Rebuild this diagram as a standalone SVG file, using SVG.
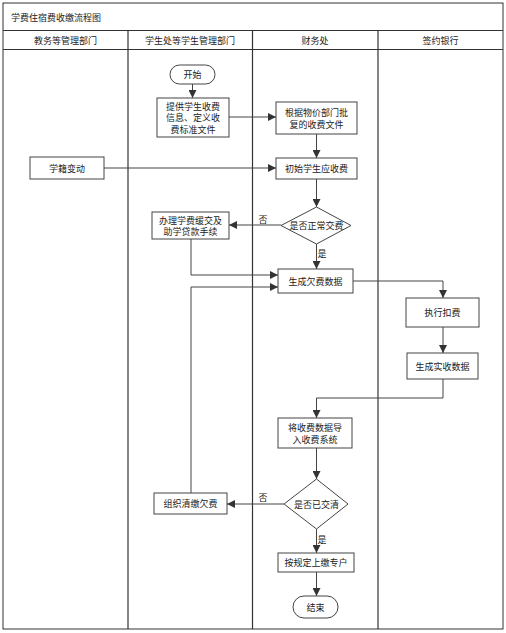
<svg xmlns="http://www.w3.org/2000/svg" width="506" height="633" viewBox="0 0 506 633">
<defs>
<marker id="arr" viewBox="0 0 10 10" refX="10" refY="5" markerWidth="8" markerHeight="8" markerUnits="userSpaceOnUse" orient="auto">
<path d="M0,0 L10,5 L0,10 z" fill="#333"/>
</marker>
<style>
.frame{fill:#fff;stroke:#333;stroke-width:1}
.lane{stroke:#333;stroke-width:1.2;fill:none}
.box{fill:#fff;stroke:#444;stroke-width:1}
.t{font-family:"Noto Sans CJK SC","Noto Sans",sans-serif;font-size:9px;fill:#222;text-anchor:middle;dominant-baseline:central}
.tl{font-family:"Noto Sans CJK SC","Noto Sans",sans-serif;font-size:9px;fill:#222;dominant-baseline:central}
.c{fill:none;stroke:#444;stroke-width:1;marker-end:url(#arr)}
.cn{fill:none;stroke:#444;stroke-width:1}
</style>
</defs>
<rect width="506" height="633" fill="#fff"/>
<g id="frame">
<rect class="frame" x="3" y="3" width="500" height="626"/>
<line class="lane" x1="3" y1="30.5" x2="503" y2="30.5"/>
<line class="lane" x1="3" y1="49.5" x2="503" y2="49.5"/>
<line class="lane" x1="128" y1="30.5" x2="128" y2="629"/>
<line class="lane" x1="252.5" y1="30.5" x2="252.5" y2="629"/>
<line class="lane" x1="378" y1="30.5" x2="378" y2="629"/>
<text class="tl" x="11" y="17">学费住宿费收缴流程图</text>
<text class="t" x="65.5" y="40">教务等管理部门</text>
<text class="t" x="190" y="40">学生处等学生管理部门</text>
<text class="t" x="315" y="40">财务处</text>
<text class="t" x="440.5" y="40">签约银行</text>
</g>
<g id="connectors">
<path class="c" d="M192.5,84 V98"/>
<path class="c" d="M229,117 H276"/>
<path class="c" d="M316.5,134 V158"/>
<path class="c" d="M104,168 H276"/>
<path class="c" d="M316.5,179 V207"/>
<path class="c" d="M281,225 H229"/>
<text class="t" x="263" y="219">否</text>
<path class="c" d="M316.5,244 V269"/>
<text class="t" x="322" y="253">是</text>
<path class="c" d="M191,239 V275 H278"/>
<path class="c" d="M191,493 V287 H278"/>
<path class="c" d="M353,281 H443 V298"/>
<path class="c" d="M443,327 V353"/>
<path class="c" d="M443,379 V398 H316.5 V418"/>
<path class="c" d="M316.5,448 V479"/>
<path class="c" d="M284,504 H227"/>
<text class="t" x="263" y="497">否</text>
<path class="c" d="M316.5,529 V553"/>
<text class="t" x="322" y="539">是</text>
<path class="c" d="M316.5,572 V596"/>
</g>
<g id="n-start">
<rect class="box" x="170" y="65" width="45" height="19" rx="9.5"/>
<text class="t" x="192.5" y="74.5">开始</text>
</g>
<g id="n-provide">
<rect class="box" x="157" y="98" width="72" height="39"/>
<text class="t" x="193" y="106">提供学生收费</text>
<text class="t" x="193" y="117.5">信息、定义收</text>
<text class="t" x="193" y="129">费标准文件</text>
</g>
<g id="n-approve">
<rect class="box" x="276" y="102" width="81" height="32"/>
<text class="t" x="316.5" y="112">根据物价部门批</text>
<text class="t" x="316.5" y="124">复的收费文件</text>
</g>
<g id="n-init">
<rect class="box" x="276" y="158" width="81" height="21"/>
<text class="t" x="316.5" y="168.5">初始学生应收费</text>
</g>
<g id="n-status">
<rect class="box" x="30" y="157" width="74" height="22"/>
<text class="t" x="67" y="168">学籍变动</text>
</g>
<g id="n-dec1">
<polygon class="box" points="316.5,207 351,225.5 316.5,244 281,225.5"/>
<text class="t" x="316.5" y="225.5">是否正常交费</text>
</g>
<g id="n-defer">
<rect class="box" x="152" y="212" width="77" height="27"/>
<text class="t" x="190.5" y="220">办理学费缓交及</text>
<text class="t" x="190.5" y="231.5">助学贷款手续</text>
</g>
<g id="n-arrears">
<rect class="box" x="278" y="269" width="75" height="24"/>
<text class="t" x="315.5" y="281">生成欠费数据</text>
</g>
<g id="n-deduct">
<rect class="box" x="406" y="298" width="73" height="29"/>
<text class="t" x="442.5" y="312.5">执行扣费</text>
</g>
<g id="n-actual">
<rect class="box" x="407" y="353" width="71" height="26"/>
<text class="t" x="442.5" y="366">生成实收数据</text>
</g>
<g id="n-import">
<rect class="box" x="278" y="418" width="74" height="30"/>
<text class="t" x="315" y="427.5">将收费数据导</text>
<text class="t" x="315" y="439">入收费系统</text>
</g>
<g id="n-dec2">
<polygon class="box" points="316.5,479 348,504 316.5,529 284,504"/>
<text class="t" x="316.5" y="504">是否已交清</text>
</g>
<g id="n-collect">
<rect class="box" x="154" y="493" width="73" height="21"/>
<text class="t" x="190.5" y="503.5">组织清缴欠费</text>
</g>
<g id="n-remit">
<rect class="box" x="278" y="553" width="76" height="19"/>
<text class="t" x="316" y="562.5">按规定上缴专户</text>
</g>
<g id="n-end">
<rect class="box" x="293" y="596" width="45" height="22" rx="11"/>
<text class="t" x="315.5" y="607">结束</text>
</g>
</svg>
